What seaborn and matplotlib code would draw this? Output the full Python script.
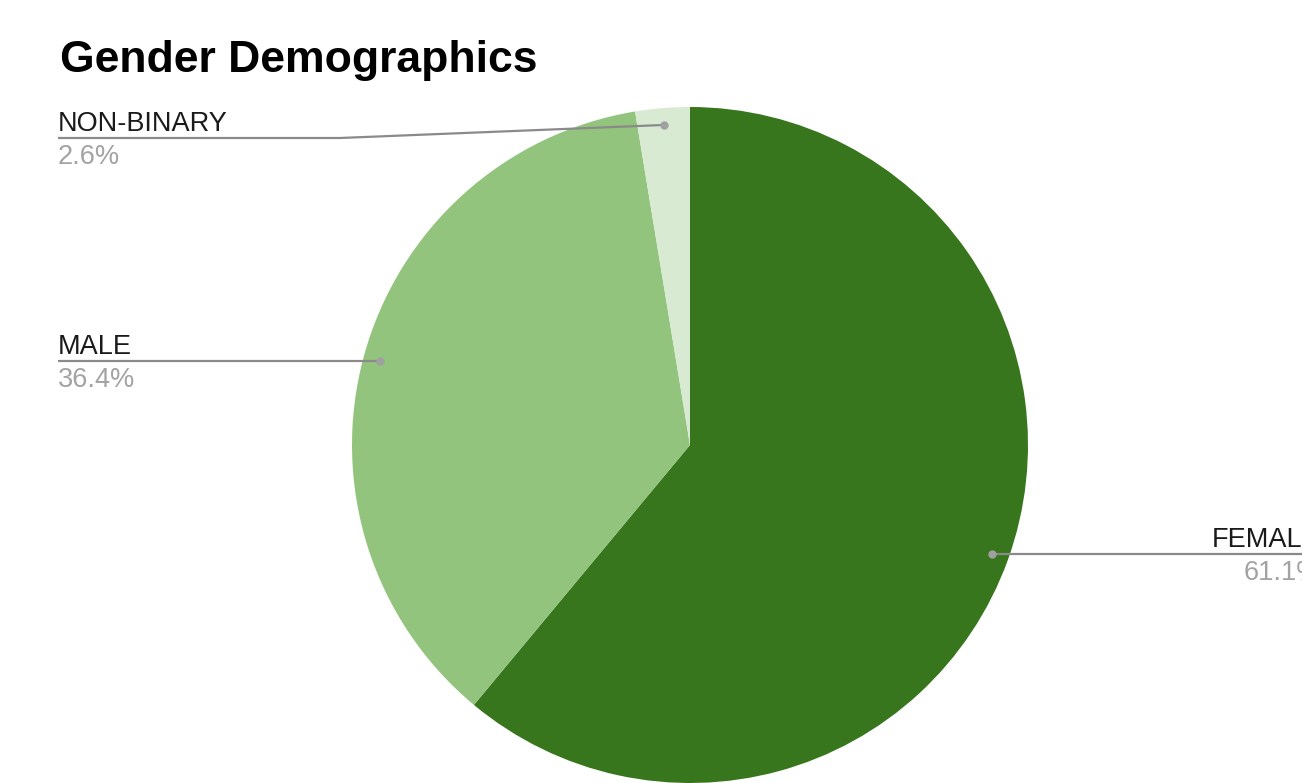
import numpy as np
import seaborn as sns
import matplotlib.pyplot as plt

# data
labels = ["FEMALE", "MALE", "NON-BINARY"]
values = [61.1, 36.4, 2.6]
colors = ["#38761d", "#93c47d", "#d9ead3"]

sns.set_theme(style="white")
plt.rcParams["font.family"] = ["Liberation Sans", "DejaVu Sans"]

W, H = 1302, 783
fig = plt.figure(figsize=(W / 100, H / 100), dpi=100)
ax = fig.add_axes([0, 0, 1, 1])

cx, cy, r = 690, 445, 338
wedges, _ = ax.pie(values, colors=colors, startangle=-90, counterclock=True,
                   center=(cx, cy), radius=r, normalize=True,
                   wedgeprops=dict(linewidth=0))
ax.set_xlim(0, W)
ax.set_ylim(H, 0)
ax.set_aspect("auto")
ax.axis("off")

line_c = "#8a8a8a"
dot_c = "#a0a0a0"

# label layout: text x, alignment, optional elbow, line end x
layout = {
    "FEMALE": dict(tx=1321, ha="right", elbow=None, end=1330, ly=None),
    "MALE": dict(tx=58, ha="left", elbow=None, end=58, ly=None),
    "NON-BINARY": dict(tx=58, ha="left", elbow=340, end=58, ly=138),
}

for w, lab, v in zip(wedges, labels, values):
    mid = np.deg2rad((w.theta1 + w.theta2) / 2)
    dx = cx + 0.95 * r * np.cos(mid)
    dy = cy + 0.95 * r * np.sin(mid)
    L = layout[lab]
    ly = dy if L["ly"] is None else L["ly"]
    if L["elbow"] is None:
        xs, ys = [dx, L["end"]], [dy, dy]
    else:
        xs, ys = [dx, L["elbow"], L["end"]], [dy, ly, ly]
    ax.plot(xs, ys, color=line_c, lw=1.6, zorder=5, solid_capstyle="butt")
    ax.plot(dx, dy, "o", ms=6, color=dot_c, zorder=6, mec="none")
    ax.text(L["tx"], ly - 7, lab, ha=L["ha"], va="baseline",
            fontsize=19.5, color="#1a1a1a", zorder=7)
    ax.text(L["tx"], ly + 6, f"{v:.1f}%", ha=L["ha"], va="top",
            fontsize=19.5, color="#a3a3a3", zorder=7)

fig.text(60 / W, 1 - 72 / H, "Gender Demographics", fontsize=32,
         fontweight="bold", color="#000000", ha="left", va="baseline")

fig.savefig("out.png", dpi=100)
